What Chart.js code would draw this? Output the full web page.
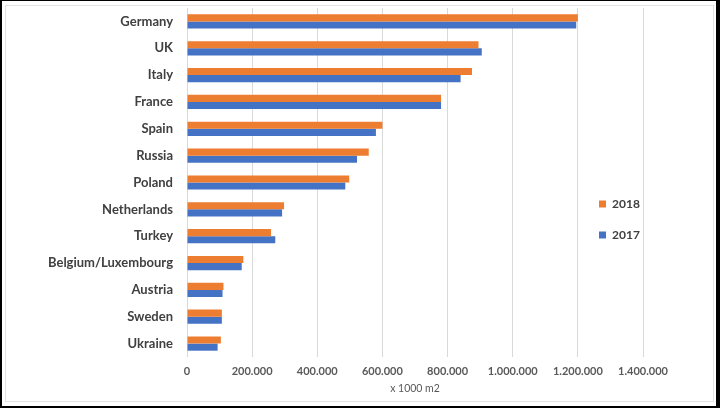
<!DOCTYPE html>
<html>
<head>
<meta charset="utf-8">
<script src="https://cdn.jsdelivr.net/npm/chart.js@4"></script>
<style>
  html, body { margin: 0; padding: 0; background: #000; }
  #page { position: absolute; left: 2px; top: 1px; width: 714px; height: 405px; background: #fff; }
  #frame { position: absolute; left: 5px; top: 5px; width: 707px; height: 395px; border: 1px solid #e3e3e3; }
  #myChart { position: absolute; left: 0; top: 0; }
</style>
</head>
<body>
<div id="page"></div>
<div id="frame"></div>
<canvas id="myChart" width="720" height="408"></canvas>
<script>
var countries = ['Germany', 'UK', 'Italy', 'France', 'Spain', 'Russia', 'Poland',
    'Netherlands', 'Turkey', 'Belgium/Luxembourg', 'Austria', 'Sweden', 'Ukraine'];
var years = ['2018', '2017'];
var values2018 = [1200000, 895000, 875000, 780000, 600000, 558000, 498000, 298000, 258000, 173000, 112000, 107000, 104000];
var values2017 = [1195000, 905000, 840000, 780000, 580000, 522000, 486000, 292000, 271000, 168000, 109000, 107000, 94000];
var xTicks = [0, 200000, 400000, 600000, 800000, 1000000, 1200000, 1400000];
var xTitle = 'x 1000 m2';

function fmt(v) {
    return String(v).replace(/\B(?=(\d{3})+(?!\d))/g, '.');
}

// moves the legend inside the plot area, like the original
var legendMover = {
    id: 'legendMover',
    afterLayout: function(chart) {
        var lg = chart.legend;
        if (!lg) return;
        var w = 110;
        lg.left = 580; lg.right = lg.left + w; lg.width = w;
        lg.top = 179; lg.bottom = lg.top + 160; lg.height = 160;
    }
};

var ctx = document.getElementById('myChart').getContext('2d');
var chart = new Chart(ctx, {
    type: 'bar',
    data: {
        labels: countries,
        datasets: [{
            label: years[0],
            data: values2018,
            backgroundColor: '#ED7D31',
            categoryPercentage: 0.53,
            barPercentage: 1
        }, {
            label: years[1],
            data: values2017,
            backgroundColor: '#4472C4',
            categoryPercentage: 0.53,
            barPercentage: 1
        }]
    },
    options: {
        indexAxis: 'y',
        responsive: false,
        animation: false,
        layout: { padding: { top: 8, right: 76, bottom: 0, left: 0 } },
        scales: {
            x: {
                min: 0,
                max: 1400000,
                afterBuildTicks: function(s) { s.ticks = xTicks.map(function(v) { return { value: v }; }); },
                afterFit: function(s) { s.height = 51; },
                grid: { color: '#d9d9d9', drawTicks: false },
                border: { display: false },
                ticks: {
                    padding: 8,
                    color: '#595959',
                    font: { family: 'Lato', size: 11, weight: 'bold' },
                    callback: function(v) { return fmt(v); }
                },
                title: {
                    display: true,
                    text: xTitle,
                    color: '#595959',
                    font: { family: 'Lato', size: 10.5 },
                    padding: { top: 0, bottom: 13 }
                }
            },
            y: {
                afterFit: function(s) {
                    s.width = 187;
                    s.paddingTop = 0;
                    s.paddingBottom = 0;
                },
                grid: { display: false, drawTicks: false },
                border: { display: false },
                ticks: {
                    padding: 14,
                    color: '#404040',
                    font: { family: 'Lato', size: 13, weight: 'bold' }
                }
            }
        },
        plugins: {
            legend: {
                position: 'right',
                align: 'start',
                maxWidth: 1,
                labels: {
                    boxWidth: 7,
                    boxHeight: 7,
                    padding: 19,
                    color: '#404040',
                    font: { family: 'Lato', size: 12, weight: 'bold' }
                }
            },
            tooltip: { enabled: false }
        }
    },
    plugins: [legendMover]
});
</script>
</body>
</html>
